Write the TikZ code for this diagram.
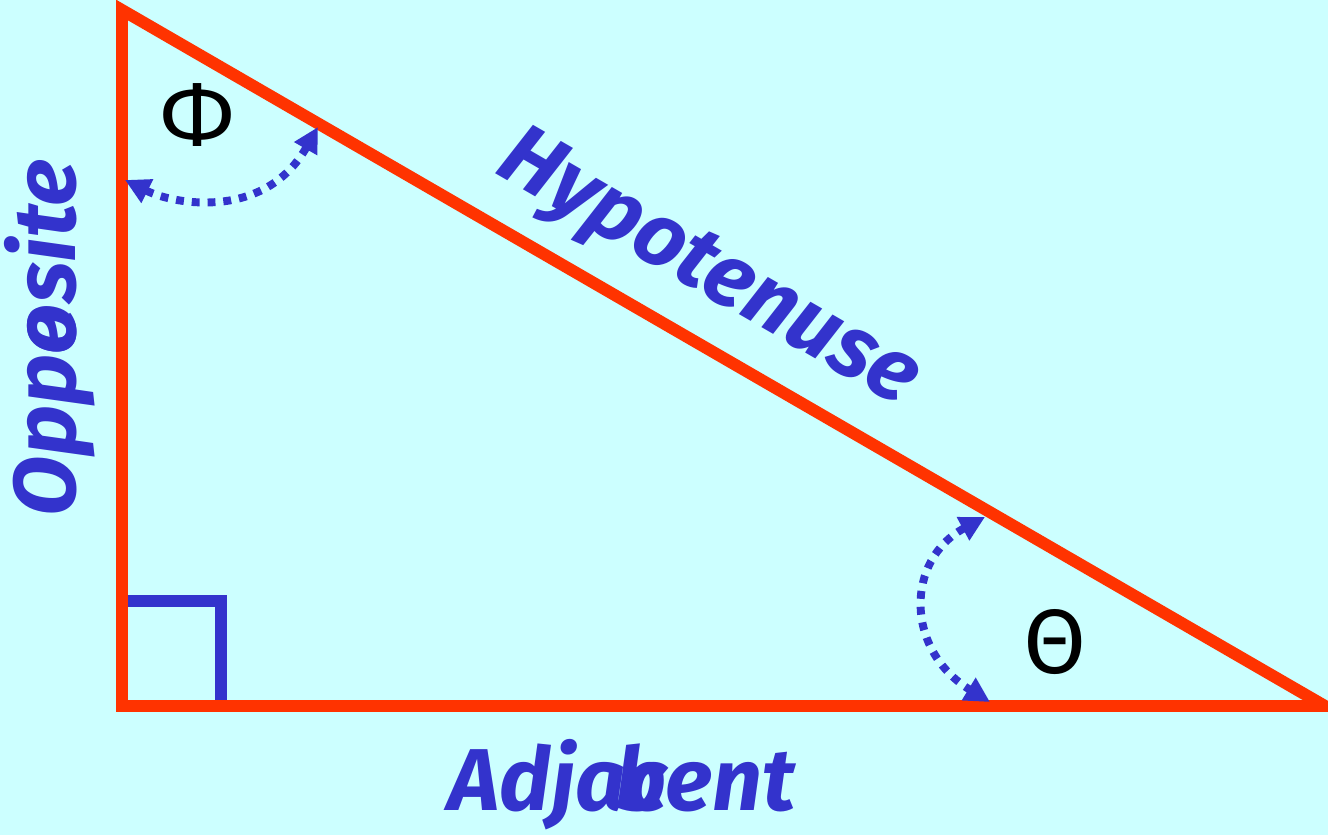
\documentclass[tikz,border=0pt]{standalone}
\usepackage{fontspec}
\setmainfont{Fira Sans}
\usetikzlibrary{arrows.meta}
\definecolor{bg}{HTML}{CCFFFF}
\definecolor{tred}{HTML}{FF3300}
\definecolor{tblue}{HTML}{3333CC}
\tikzset{
  side/.style={draw=tred, line width=6.8pt, line join=miter},
  rightmark/.style={draw=tblue, line width=6.3pt},
  anglearc/.style={draw=tblue, line width=4.5pt, dash pattern=on 4.5pt off 4.5pt,
    {Triangle[length=0.5cm,width=0.5cm]}-{Triangle[length=0.5cm,width=0.5cm]}},
  sidelabel/.style={text=tblue, font=\fontsize{50}{60}\selectfont\bfseries\itshape, inner sep=0pt},
  anglelabel/.style={text=black, font=\fontsize{52}{60}\selectfont, inner sep=0pt}
}
\begin{document}
\begin{tikzpicture}[x=0.02cm,y=-0.02cm]
\fill[bg] (0,0) rectangle (1328,835);
\useasboundingbox (0,0) rectangle (1328,835);
\coordinate (A) at (122,10);
\coordinate (B) at (122,706);
\coordinate (C) at (1325,706);
\coordinate (S1) at (122,601);
\coordinate (S2) at (221,601);
\coordinate (S3) at (221,706);
\draw[rightmark] (S1) -- (S2) -- (S3);
\draw[side] (A) -- (B) -- (C) -- cycle;
\coordinate (p1) at (125,180);
\coordinate (p2) at (318,127);
\draw[anglearc] (p1) .. controls (175,205) and (265,220) .. (p2);
\coordinate (t1) at (985,517);
\coordinate (t2) at (990,702);
\draw[anglearc] (t1) .. controls (905,560) and (905,650) .. (t2);
\node[anglelabel] (phi) at (197,115) {Φ};
\node[anglelabel] (theta) at (1055,642) {Θ};
\node[sidelabel, rotate=-30.05] (hyp) at (707,272) {Hypotenuse};
\node[sidelabel, rotate=90] (opp) at (50,338) {Opp\rlap{e}osite};
\node[sidelabel] (adj) at (622,785) {Adja\rlap{\hspace{-0.12em}b}cent};
\end{tikzpicture}
\end{document}
